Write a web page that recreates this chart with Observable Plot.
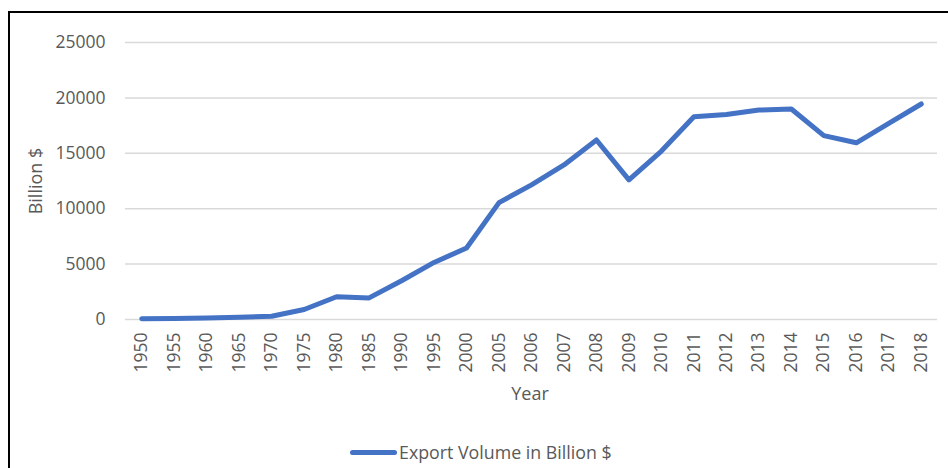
<!DOCTYPE html>
<html><head><meta charset="utf-8">
<script src="https://cdn.jsdelivr.net/npm/d3@7"></script>
<script src="https://cdn.jsdelivr.net/npm/@observablehq/plot@0.6"></script>
<style>
body{margin:0;background:#fff;font-family:"Open Sans",sans-serif;}
#wrap{position:relative;width:948px;height:468px;overflow:hidden;background:#fff;}
#frame{position:absolute;left:8px;top:11px;right:-5px;bottom:-5px;border-top:2px solid #000;border-left:2px solid #000;pointer-events:none;}
#chart{position:absolute;left:0;top:0;}
.lbl{position:absolute;color:#595959;font-size:18px;white-space:nowrap;line-height:1;}
#ylab{left:35px;top:181px;transform:translate(-50%,-50%) rotate(-90deg);}
#xlab{left:530px;top:393px;transform:translate(-50%,-50%);}
#legend{position:absolute;left:350px;top:453px;transform:translateY(-50%);display:flex;align-items:center;color:#595959;font-size:17.8px;white-space:nowrap;line-height:1;}
#legend .sw{display:inline-block;width:47px;height:5px;background:#4472C4;border-radius:3px;margin-right:2px;}
</style></head>
<body>
<div id="wrap">
  <div id="chart"></div>
  <div class="lbl" id="ylab">Billion $</div>
  <div class="lbl" id="xlab">Year</div>
  <div id="legend"><span class="sw"></span><span id="legtext"></span></div>
  <div id="frame"></div>
</div>
<script>
const years = ["1950","1955","1960","1965","1970","1975","1980","1985","1990","1995","2000","2005","2006","2007","2008","2009","2010","2011","2012","2013","2014","2015","2016","2017","2018"];
const exportsValues = [60,100,130,200,300,900,2050,1950,3500,5150,6450,10550,12150,13950,16200,12600,15200,18300,18500,18900,19000,16600,15950,17700,19450];
const yTicks = [0,5000,10000,15000,20000,25000];
const seriesName = "Export Volume in Billion $";
const yLabel = "Billion $";
const xLabel = "Year";

document.getElementById("legtext").textContent = seriesName;
document.getElementById("ylab").textContent = yLabel;
document.getElementById("xlab").textContent = xLabel;

const data = years.map((y,i)=>({year:y, value:exportsValues[i]}));

const chart = Plot.plot({
  width:948, height:430,
  marginLeft:125, marginRight:11, marginTop:42, marginBottom:111,
  style:{fontFamily:'"Open Sans", sans-serif', fontSize:'17.5px', color:'#595959', background:'transparent', overflow:'visible'},
  x:{type:'point', domain:years, padding:0.5, round:false, label:null, tickRotate:-90, tickSize:0, tickPadding:13},
  y:{domain:[0,25000], ticks:yTicks, label:null, tickSize:0, tickPadding:20, tickFormat:d=>String(d)},
  marks:[
    Plot.ruleY(yTicks,{stroke:'#d9d9d9', strokeWidth:1.5}),
    Plot.line(data,{x:'year', y:'value', stroke:'#4472C4', strokeWidth:5, strokeLinecap:'round', strokeLinejoin:'round'})
  ]
});
document.getElementById("chart").appendChild(chart);
</script>
</body></html>
